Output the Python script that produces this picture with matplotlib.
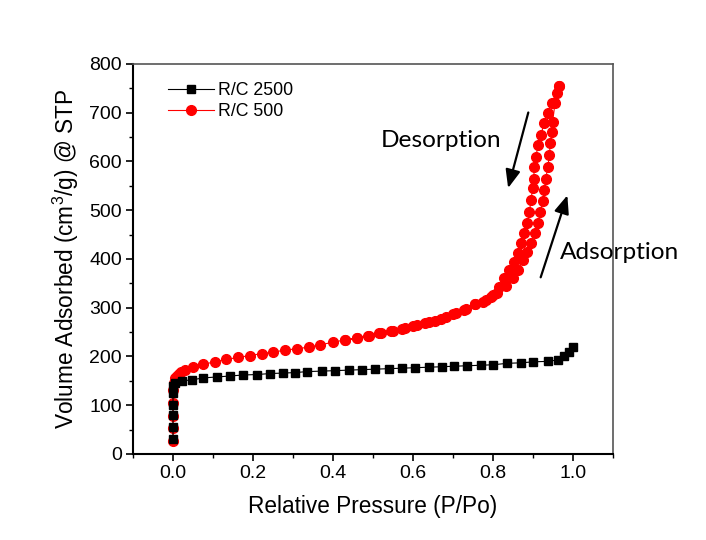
import matplotlib

matplotlib.use("Agg")
import matplotlib.pyplot as plt
from matplotlib.ticker import MultipleLocator

plt.rcParams["font.family"] = ["Liberation Sans", "DejaVu Sans"]
plt.rcParams["mathtext.fontset"] = "custom"
plt.rcParams["mathtext.rm"] = "Liberation Sans"

# R/C 2500 isotherm (black squares)
p_2500 = [0.0, 0.0, 0.0, 0.0, 0.0, 0.0, 0.005, 0.022, 0.047, 0.075, 0.11,
          0.143, 0.175, 0.21, 0.243, 0.276, 0.306, 0.335, 0.373, 0.406, 0.439,
          0.473, 0.506, 0.54, 0.573, 0.606, 0.64, 0.673, 0.703, 0.736, 0.769,
          0.80, 0.836, 0.87, 0.90, 0.937, 0.962, 0.977, 0.99, 0.999]
v_2500 = [30, 55, 80, 100, 125, 140, 146, 150, 152, 156, 158,
          160, 162, 163, 165, 166, 167, 169, 170, 171, 172,
          173, 174, 175, 176, 177, 178, 179, 180, 181, 182,
          183, 186, 187, 189, 190, 193, 200, 210, 220]

# R/C 500 adsorption branch (red circles)
p_500_ads = [0.0, 0.0, 0.0, 0.0, 0.0, 0.003, 0.006, 0.01, 0.015, 0.02, 0.03,
             0.049, 0.075, 0.105, 0.133, 0.162, 0.193, 0.222, 0.25, 0.28,
             0.31, 0.339, 0.368, 0.399, 0.429, 0.459, 0.488, 0.516, 0.546,
             0.573, 0.601, 0.629, 0.655, 0.682, 0.707, 0.732, 0.754, 0.774,
             0.794, 0.811, 0.832, 0.849, 0.863, 0.876, 0.886, 0.896, 0.905,
             0.913, 0.918, 0.924, 0.928, 0.932, 0.937, 0.941, 0.943, 0.947,
             0.949, 0.955, 0.960, 0.964]
v_500_ads = [27, 53, 78, 105, 131, 145, 155, 160, 165, 168, 172,
             178, 184, 189, 194, 198, 202, 206, 209, 213,
             216, 219, 224, 229, 234, 237, 242, 248, 252,
             256, 263, 268, 273, 280, 289, 297, 308, 312,
             321, 331, 344, 360, 377, 398, 415, 433, 453,
             473, 497, 518, 541, 565, 589, 613, 637, 661,
             682, 719, 740, 755]

# R/C 500 desorption branch
p_500_des = [0.964, 0.947, 0.937, 0.927, 0.920, 0.913, 0.907, 0.903, 0.902,
             0.899, 0.895, 0.891, 0.886, 0.878, 0.871, 0.863, 0.853, 0.840,
             0.828, 0.815, 0.799, 0.782, 0.755, 0.727, 0.70, 0.67, 0.64,
             0.61, 0.58, 0.55, 0.52, 0.49, 0.46, 0.43]
v_500_des = [755, 719, 699, 678, 654, 634, 610, 589, 565,
             545, 521, 497, 473, 453, 432, 412, 394, 377,
             360, 343, 326, 316, 307, 296, 287, 277, 270,
             264, 258, 253, 249, 243, 238, 234]

fig = plt.figure(figsize=(7.06, 5.40), dpi=100)
ax = fig.add_axes([0.1884, 0.1593, 0.6799, 0.7222])

ax.plot(p_500_ads + p_500_des, v_500_ads + v_500_des,
        color="red", marker="o", markersize=7.0, linewidth=0.8,
        label="R/C 500", zorder=2)
ax.plot(p_2500, v_2500, color="black", marker="s", markersize=5.8,
        linewidth=0.8, label="R/C 2500", zorder=3)

ax.set_xlim(-0.1, 1.1)
ax.set_ylim(0, 800)
ax.xaxis.set_minor_locator(MultipleLocator(0.1))
ax.yaxis.set_major_locator(MultipleLocator(100))
ax.yaxis.set_minor_locator(MultipleLocator(50))
ax.set_xticks([0.0, 0.2, 0.4, 0.6, 0.8, 1.0])
ax.xaxis.set_major_formatter(plt.FuncFormatter(lambda v, _: f"{v:.1f}"))

ax.tick_params(which="both", direction="out", top=False, right=False,
               labelsize=14, colors="black", pad=3)
ax.tick_params(which="major", length=5, width=1.2)
ax.tick_params(which="minor", length=3, width=1.0)
for side in ["left", "bottom"]:
    ax.spines[side].set_linewidth(1.5)
for side in ["top", "right"]:
    ax.spines[side].set_linewidth(1.2)
    ax.spines[side].set_color("#555555")

ax.set_xlabel("Relative Pressure (P/Po)", fontsize=16.3, labelpad=9)
ax.set_ylabel(r"Volume Adsorbed (cm$^3$/g) @ STP", fontsize=16.3, labelpad=6)

handles, labels = ax.get_legend_handles_labels()
ax.legend(handles[::-1], labels[::-1], loc="upper left", frameon=False,
          fontsize=12.8, handlelength=2.6, handletextpad=0.2,
          labelspacing=0.25, bbox_to_anchor=(0.04, 0.995))

ax.annotate("", xy=(0.836, 540), xytext=(0.890, 706),
            arrowprops=dict(arrowstyle="-|>,head_length=1.1,head_width=0.45",
                            color="black", lw=1.6))
ax.annotate("", xy=(0.988, 536), xytext=(0.917, 357),
            arrowprops=dict(arrowstyle="-|>,head_length=1.1,head_width=0.45",
                            color="black", lw=1.6))
ax.text(0.519, 630, "Desorption", fontsize=17.6, family=["Lato", "DejaVu Sans"],
        ha="left", va="baseline")
ax.text(0.967, 400, "Adsorption", fontsize=17.6, family=["Lato", "DejaVu Sans"],
        ha="left", va="baseline", clip_on=False)

fig.savefig("out.png", dpi=100, facecolor="white")
